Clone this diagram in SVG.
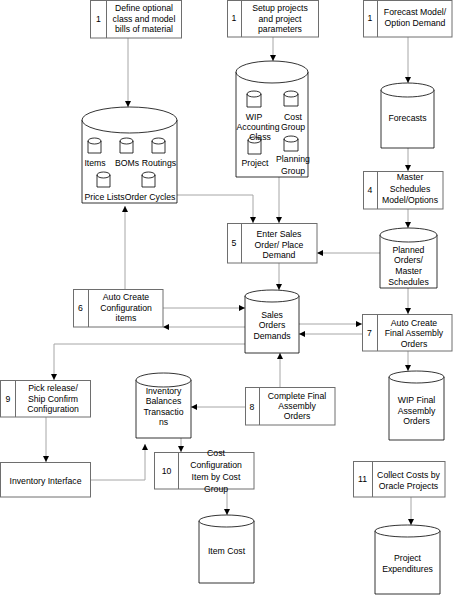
<svg xmlns="http://www.w3.org/2000/svg" width="453" height="595" viewBox="0 0 453 595">
<defs>
<marker id="ah" viewBox="0 0 8 8" refX="8" refY="4" markerWidth="6" markerHeight="6" orient="auto" markerUnits="userSpaceOnUse">
<path d="M0,0 L8,4 L0,8 Z" fill="#000"/>
</marker>
<style>
text{font-family:"Liberation Sans",Arial,sans-serif;font-size:8.7px;fill:#000;text-anchor:middle}
.box{fill:#fff;stroke:#6e6e6e;stroke-width:1}
.cyl{fill:#fff;stroke:#000;stroke-width:0.8}
.con{fill:none;stroke:#a6a6a6;stroke-width:1;marker-end:url(#ah)}
.con2{fill:none;stroke:#a6a6a6;stroke-width:1}
</style>
</defs>
<rect width="453" height="595" fill="#fff"/>

<g id="connectors">
<path class="con" d="M128,38 V107"/>
<path class="con" d="M273,37 V61"/>
<path class="con" d="M408,37 V83"/>
<path class="con" d="M408,148 V171"/>
<path class="con" d="M408,209 V228"/>
<path class="con" d="M177,195 H253 V223"/>
<path class="con" d="M279,177 V223"/>
<path class="con" d="M380,253 H317"/>
<path class="con" d="M279,263 V290"/>
<path class="con" d="M408,288 V314"/>
<path class="con" d="M299,324 H362"/>
<path class="con" d="M362,334 H299"/>
<path class="con" d="M408,351 V371"/>
<path class="con" d="M280,387 V353"/>
<path class="con" d="M245,407 H191"/>
<path class="con" d="M125,289 V206"/>
<path class="con" d="M163,308 H245"/>
<path class="con" d="M245,327 H163"/>
<path class="con" d="M245,344 H54 V380"/>
<path class="con" d="M46,417 V462"/>
<path class="con" d="M91,480 H145 V444"/>
<path class="con" d="M181,438 V452"/>
<path class="con" d="M227,489 V515"/>
<path class="con" d="M411,497 V525"/>
</g>

<g id="n1a">
<rect class="box" x="90.5" y="0.5" width="91" height="37.5"/>
<line class="box" x1="106.5" y1="0.5" x2="106.5" y2="38"/>
<text x="98.5" y="22">1</text>
<text x="144" y="11">Define optional</text>
<text x="144" y="22">class and model</text>
<text x="144" y="32">bills of material</text>
</g>

<g id="n1b">
<rect class="box" x="227.5" y="0.5" width="91" height="36.5"/>
<line class="box" x1="241.5" y1="0.5" x2="241.5" y2="37"/>
<text x="234" y="21">1</text>
<text x="280" y="11">Setup projects</text>
<text x="280" y="22">and project</text>
<text x="280" y="32">parameters</text>
</g>

<g id="n1c">
<rect class="box" x="363.5" y="0.5" width="88.5" height="36.5"/>
<line class="box" x1="377.5" y1="0.5" x2="377.5" y2="37"/>
<text x="370" y="21">1</text>
<text x="415" y="15">Forecast Model/</text>
<text x="415" y="26">Option Demand</text>
</g>

<g id="items">
<path class="cyl" d="M82,120 A47.5,13 0 0 1 177,120 V203 H82 Z"/>
<path class="cyl" fill="none" d="M82,120 A47.5,13 0 0 0 177,120"/>
<path class="cyl" d="M88,141 A6.5,3 0 0 1 101,141 V153 H88 Z M88,141 A6.5,3 0 0 0 101,141"/>
<path class="cyl" d="M120,141 A6.5,3 0 0 1 133,141 V153 H120 Z M120,141 A6.5,3 0 0 0 133,141"/>
<path class="cyl" d="M152,141 A6.5,3 0 0 1 165,141 V153 H152 Z M152,141 A6.5,3 0 0 0 165,141"/>
<path class="cyl" d="M97,175 A6.5,3 0 0 1 110,175 V187 H97 Z M97,175 A6.5,3 0 0 0 110,175"/>
<path class="cyl" d="M142,175 A6.5,3 0 0 1 155,175 V187 H142 Z M142,175 A6.5,3 0 0 0 155,175"/>
<text x="95" y="166">Items</text>
<text x="127" y="166">BOMs</text>
<text x="159" y="166">Routings</text>
<text x="104.5" y="200">Price Lists</text>
<text x="150" y="200">Order Cycles</text>
</g>

<g id="projparams">
<path class="cyl" d="M236,72 A36,11 0 0 1 308,72 V177 H236 Z"/>
<path class="cyl" fill="none" d="M236,72 A36,11 0 0 0 308,72"/>
<path class="cyl" d="M247,94 A7,3 0 0 1 261,94 V107 H247 Z M247,94 A7,3 0 0 0 261,94"/>
<path class="cyl" d="M284,94 A7,3 0 0 1 298,94 V106 H284 Z M284,94 A7,3 0 0 0 298,94"/>
<path class="cyl" d="M248,140 A6.5,3 0 0 1 261,140 V154 H248 Z M248,140 A6.5,3 0 0 0 261,140"/>
<path class="cyl" d="M284,139 A7,3 0 0 1 298,139 V151 H284 Z M284,139 A7,3 0 0 0 298,139"/>
<text x="254" y="120">WIP</text>
<text x="258" y="130">Accounting</text>
<text x="260" y="140">Class</text>
<text x="293" y="120">Cost</text>
<text x="293" y="130">Group</text>
<text x="255" y="166">Project</text>
<text x="293" y="162">Planning</text>
<text x="293" y="174">Group</text>
</g>

<g id="forecasts">
<path class="cyl" d="M381,90 A26.5,7 0 0 1 434,90 V148 H381 Z"/>
<path class="cyl" fill="none" d="M381,90 A26.5,7 0 0 0 434,90"/>
<text x="407.5" y="121">Forecasts</text>
</g>

<g id="n4">
<rect class="box" x="363.5" y="171.5" width="79.5" height="37.5"/>
<line class="box" x1="377.5" y1="171.5" x2="377.5" y2="209"/>
<text x="370" y="193">4</text>
<text x="410" y="180">Master</text>
<text x="410" y="192">Schedules</text>
<text x="410" y="203">Model/Options</text>
</g>

<g id="planned">
<path class="cyl" d="M380,235 A28.5,7 0 0 1 437,235 V288 H380 Z"/>
<path class="cyl" fill="none" d="M380,235 A28.5,7 0 0 0 437,235"/>
<text x="408.5" y="253">Planned</text>
<text x="408.5" y="263">Orders/</text>
<text x="408.5" y="274">Master</text>
<text x="408.5" y="285">Schedules</text>
</g>

<g id="n5">
<rect class="box" x="227.5" y="223.5" width="89.5" height="39.5"/>
<line class="box" x1="241.5" y1="223.5" x2="241.5" y2="263"/>
<text x="234" y="246">5</text>
<text x="279" y="237">Enter Sales</text>
<text x="279" y="248">Order/ Place</text>
<text x="279" y="258">Demand</text>
</g>

<g id="sales">
<path class="cyl" d="M245,296 A27,6 0 0 1 299,296 V353 H245 Z"/>
<path class="cyl" fill="none" d="M245,296 A27,6 0 0 0 299,296"/>
<text x="272" y="318">Sales</text>
<text x="272" y="328">Orders</text>
<text x="272" y="339">Demands</text>
</g>

<g id="n6">
<rect class="box" x="73.5" y="289.5" width="89.5" height="37.5"/>
<line class="box" x1="88.5" y1="289.5" x2="88.5" y2="327"/>
<text x="80.5" y="311">6</text>
<text x="126" y="300">Auto Create</text>
<text x="126" y="311">Configuration</text>
<text x="126" y="321">items</text>
</g>

<g id="n7">
<rect class="box" x="362.5" y="314.5" width="89.5" height="36.5"/>
<line class="box" x1="377.5" y1="314.5" x2="377.5" y2="351"/>
<text x="369.5" y="336">7</text>
<text x="414" y="326">Auto Create</text>
<text x="414" y="336">Final Assembly</text>
<text x="414" y="347">Orders</text>
</g>

<g id="wipfinal">
<path class="cyl" d="M389,377 A27.5,6 0 0 1 444,377 V440 H389 Z"/>
<path class="cyl" fill="none" d="M389,377 A27.5,6 0 0 0 444,377"/>
<text x="416.5" y="403">WIP Final</text>
<text x="416.5" y="414">Assembly</text>
<text x="416.5" y="424">Orders</text>
</g>

<g id="n8">
<rect class="box" x="245.5" y="387.5" width="89.5" height="37.5"/>
<line class="box" x1="259.5" y1="387.5" x2="259.5" y2="425"/>
<text x="252" y="410">8</text>
<text x="297" y="399">Complete Final</text>
<text x="297" y="409">Assembly</text>
<text x="297" y="419">Orders</text>
</g>

<g id="inventory">
<path class="cyl" d="M136,380 A27.5,7 0 0 1 191,380 V438 H136 Z"/>
<path class="cyl" fill="none" d="M136,380 A27.5,7 0 0 0 191,380"/>
<text x="163.5" y="394">Inventory</text>
<text x="163.5" y="404">Balances</text>
<text x="163.5" y="415">Transactio</text>
<text x="163.5" y="425">ns</text>
</g>

<g id="n9">
<rect class="box" x="0.5" y="380.5" width="90" height="36.5"/>
<line class="box" x1="15.5" y1="380.5" x2="15.5" y2="417"/>
<text x="8" y="402">9</text>
<text x="53" y="391">Pick release/</text>
<text x="53" y="402">Ship Confirm</text>
<text x="53" y="412">Configuration</text>
</g>

<g id="invinterface">
<rect class="box" x="0.5" y="462.5" width="90" height="34.5"/>
<text x="45.5" y="484">Inventory Interface</text>
</g>

<g id="n10">
<rect class="box" x="154.5" y="452.5" width="99.5" height="36.5"/>
<line class="box" x1="178.5" y1="452.5" x2="178.5" y2="489"/>
<text x="166.5" y="474">10</text>
<text x="216" y="456">Cost</text>
<text x="216" y="468">Configuration</text>
<text x="216" y="480">Item by Cost</text>
<text x="216" y="492">Group</text>
</g>

<g id="itemcost">
<path class="cyl" d="M199,521 A27.5,6 0 0 1 254,521 V583 H199 Z"/>
<path class="cyl" fill="none" d="M199,521 A27.5,6 0 0 0 254,521"/>
<text x="226.5" y="554">Item Cost</text>
</g>

<g id="n11">
<rect class="box" x="353.5" y="461.5" width="91.5" height="35.5"/>
<line class="box" x1="372.5" y1="461.5" x2="372.5" y2="497"/>
<text x="362.5" y="482">11</text>
<text x="408.5" y="478">Collect Costs by</text>
<text x="408.5" y="489">Oracle Projects</text>
</g>

<g id="projexp">
<path class="cyl" d="M375,531 A32.5,6 0 0 1 440,531 V594 H375 Z"/>
<path class="cyl" fill="none" d="M375,531 A32.5,6 0 0 0 440,531"/>
<text x="407.5" y="561">Project</text>
<text x="407.5" y="572">Expenditures</text>
</g>
</svg>
